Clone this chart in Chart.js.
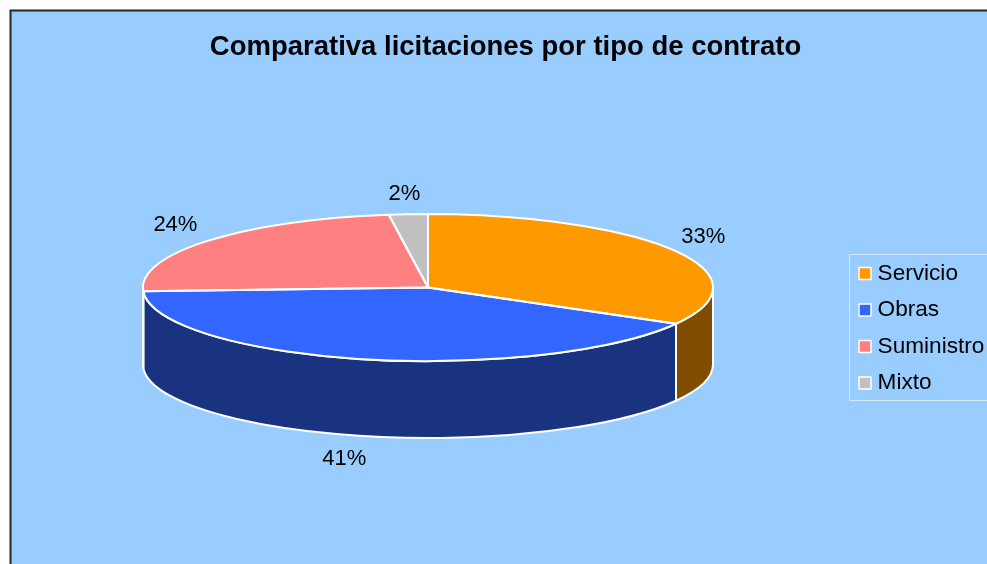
<!DOCTYPE html>
<html lang="es">
<head>
<meta charset="utf-8">
<title>Comparativa licitaciones por tipo de contrato</title>
<style>
html,body{margin:0;padding:0;background:#fff;overflow:hidden}
canvas{display:block}
</style>
<script src="https://cdn.jsdelivr.net/npm/chart.js@4/dist/chart.umd.min.js"></script>
</head>
<body>
<canvas id="c" width="987" height="564" style="width:987px;height:564px"></canvas>
<script>
const titleText = 'Comparativa licitaciones por tipo de contrato';
const categories = ['Servicio', 'Obras', 'Suministro', 'Mixto'];
const values = [33.2, 41.0, 23.6, 2.2];
const topColors = ['#FF9900', '#3366FF', '#FF8080', '#C0C0C0'];
const wallColors = ['#804D00', '#1A3380', '#804040', '#606060'];
const labelNudge = [[29, -14], [-18, 23], [-33, -16], [-4, -20]];

const FONT = '"Liberation Sans", Arial, sans-serif';
const PIE = { cx: 428, cy: 287.5, rx: 285, ry: 73.5, depth: 77 };

function ellipsePath(ctx, a, b) {
  ctx.beginPath();
  ctx.moveTo(PIE.cx, PIE.cy);
  ctx.ellipse(PIE.cx, PIE.cy, PIE.rx, PIE.ry, 0, a, b);
  ctx.closePath();
}

const pie3d = {
  id: 'pie3d',
  beforeDraw(chart) {
    const ctx = chart.ctx;
    ctx.save();
    ctx.fillStyle = '#99CCFF';
    ctx.fillRect(10, 10, chart.width, chart.height);
    ctx.strokeStyle = '#22262E';
    ctx.lineWidth = 2;
    ctx.beginPath();
    ctx.moveTo(10.5, chart.height);
    ctx.lineTo(10.5, 10.5);
    ctx.lineTo(chart.width, 10.5);
    ctx.stroke();
    ctx.restore();
  },
  afterLayout(chart) {
    const l = chart.legend;
    l.left = 844.4; l.right = 990;
    l.top = 248.4; l.bottom = 410;
  },
  beforeDatasetsDraw(chart) {
    const ctx = chart.ctx;
    const arcs = chart.getDatasetMeta(0).data;
    ctx.save();
    ctx.lineWidth = 2;
    ctx.strokeStyle = '#fff';
    ctx.lineJoin = 'round';
    arcs.forEach((el, i) => {
      // visible (front-facing) part of the rim: canvas angles 0..PI
      const a = Math.max(el.startAngle, 0), b = Math.min(el.endAngle, Math.PI);
      if (b <= a) return;
      ctx.beginPath();
      ctx.ellipse(PIE.cx, PIE.cy, PIE.rx, PIE.ry, 0, a, b);
      ctx.ellipse(PIE.cx, PIE.cy + PIE.depth, PIE.rx, PIE.ry, 0, b, a, true);
      ctx.closePath();
      ctx.fillStyle = wallColors[i];
      ctx.fill();
      ctx.stroke();
    });
    ctx.restore();
    const el = arcs[0];
    const R = el.outerRadius;
    ctx.save();
    ctx.translate(PIE.cx, PIE.cy);
    ctx.scale(PIE.rx / R, PIE.ry / R);
    ctx.translate(-el.x, -el.y);
  },
  afterDatasetsDraw(chart) {
    const ctx = chart.ctx;
    ctx.restore();
    const arcs = chart.getDatasetMeta(0).data;
    ctx.save();
    ctx.lineWidth = 2;
    ctx.strokeStyle = '#fff';
    ctx.lineJoin = 'round';
    arcs.forEach(el => {
      ellipsePath(ctx, el.startAngle, el.endAngle);
      ctx.stroke();
    });
    // data labels
    ctx.fillStyle = '#000';
    ctx.font = '22px ' + FONT;
    ctx.textAlign = 'center';
    ctx.textBaseline = 'middle';
    const total = values.reduce((p, v) => p + v, 0);
    arcs.forEach((el, i) => {
      const mid = (el.startAngle + el.endAngle) / 2;
      const sinM = Math.sin(mid);
      const x = PIE.cx + PIE.rx * Math.cos(mid) + labelNudge[i][0];
      const y = PIE.cy + PIE.ry * sinM + (sinM > 0.5 ? PIE.depth : 0) + labelNudge[i][1];
      ctx.fillText(Math.round(values[i] / total * 100) + '%', x, y);
    });
    // legend frame and markers
    const hits = chart.legend.legendHitBoxes;
    ctx.strokeStyle = '#D6EAFF';
    ctx.lineWidth = 1;
    ctx.strokeRect(849.5, 254.5, chart.width, 146);
    ctx.lineWidth = 1.5;
    ctx.strokeStyle = '#fff';
    hits.forEach((h, i) => {
      const my = h.top + h.height / 2;
      ctx.fillStyle = topColors[i];
      ctx.fillRect(859, my - 6, 12, 12);
      ctx.strokeRect(859, my - 6, 12, 12);
    });
    ctx.restore();
  }
};

new Chart(document.getElementById('c'), {
  type: 'pie',
  data: {
    labels: categories,
    datasets: [{
      data: values,
      backgroundColor: topColors,
      borderWidth: 0,
      clip: false
    }]
  },
  options: {
    responsive: false,
    animation: false,
    rotation: 0,
    layout: { padding: { left: 24, right: 0, top: 0, bottom: 0 } },
    plugins: {
      tooltip: { enabled: false },
      title: {
        display: true,
        text: titleText,
        color: '#000',
        font: { family: FONT, size: 27.5, weight: 'bold' },
        padding: { top: 31, bottom: 20 }
      },
      legend: {
        display: true,
        position: 'right',
        align: 'start',
        labels: {
          boxWidth: 8,
          boxHeight: 8,
          padding: 13.9,
          color: '#000',
          font: { family: FONT, size: 22.6 }
        }
      }
    }
  },
  plugins: [pie3d]
});
</script>
</body>
</html>
